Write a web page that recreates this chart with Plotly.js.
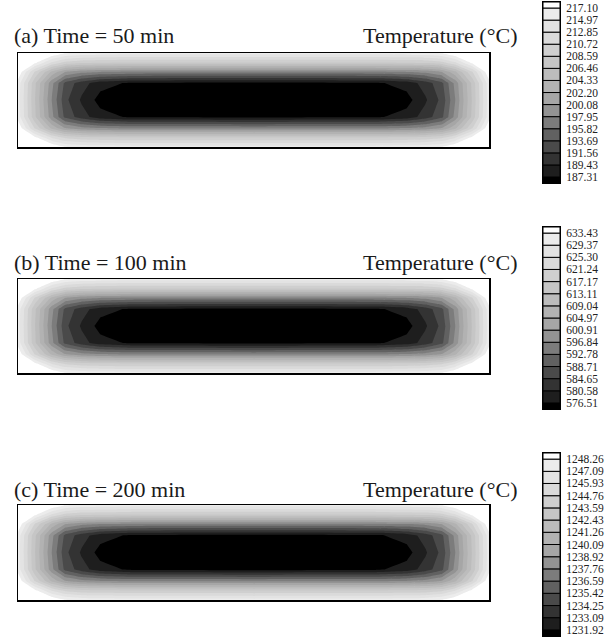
<!DOCTYPE html>
<html><head><meta charset="utf-8">
<script src="https://cdn.plot.ly/plotly-3.0.1.min.js"></script>
<style>html,body{margin:0;padding:0;background:#fff}#chart{width:616px;height:641px}</style>
</head><body><div id="chart"></div>
<script>
// grid node positions (mm along length / thickness)
const xNodes = [0, 36, 72, 100, 135, 175, 240, 500, 760, 825, 865, 900, 928, 964, 1000];
const yNodes = [0, 20, 40, 64, 100, 136, 160, 180, 200];

// temperature fields (°C)
const tempA = [
  [229.65,223.48,219.23,217.31,216.57,216.25,216.04,216.04,216.04,216.25,216.57,217.31,219.23,223.48,229.65],
  [224.76,217.74,212.63,210.18,209.23,208.91,208.70,208.65,208.70,208.91,209.23,210.18,212.63,217.74,224.76],
  [219.02,210.50,203.80,200.18,198.69,198.06,197.63,197.52,197.63,198.06,198.69,200.18,203.80,210.50,219.02],
  [216.25,206.89,198.59,193.16,190.40,188.16,186.99,186.78,186.99,188.16,190.40,193.16,198.59,206.89,216.25],
  [216.04,206.57,197.84,192.20,189.12,186.46,184.97,183.05,184.97,186.46,189.12,192.20,197.84,206.57,216.04],
  [216.25,206.89,198.59,193.16,190.40,188.16,186.99,186.78,186.99,188.16,190.40,193.16,198.59,206.89,216.25],
  [219.02,210.50,203.80,200.18,198.69,198.06,197.63,197.52,197.63,198.06,198.69,200.18,203.80,210.50,219.02],
  [224.76,217.74,212.63,210.18,209.23,208.91,208.70,208.65,208.70,208.91,209.23,210.18,212.63,217.74,224.76],
  [229.65,223.48,219.23,217.31,216.57,216.25,216.04,216.04,216.04,216.25,216.57,217.31,219.23,223.48,229.65]
];
const tempB = [
  [657.42,645.63,637.50,633.84,632.41,631.80,631.40,631.40,631.40,631.80,632.41,633.84,637.50,645.63,657.42],
  [648.07,634.65,624.89,620.22,618.39,617.78,617.37,617.25,617.37,617.78,618.39,620.22,624.89,634.65,648.07],
  [637.09,620.83,608.02,601.11,598.26,597.04,596.23,596.03,596.23,597.04,598.26,601.11,608.02,620.83,637.09],
  [631.80,613.92,598.06,587.69,582.41,578.14,575.90,575.49,575.90,578.14,582.41,587.69,598.06,613.92,631.80],
  [631.40,613.31,596.64,585.86,579.97,574.88,572.04,568.38,572.04,574.88,579.97,585.86,596.64,613.31,631.40],
  [631.80,613.92,598.06,587.69,582.41,578.14,575.90,575.49,575.90,578.14,582.41,587.69,598.06,613.92,631.80],
  [637.09,620.83,608.02,601.11,598.26,597.04,596.23,596.03,596.23,597.04,598.26,601.11,608.02,620.83,637.09],
  [648.07,634.65,624.89,620.22,618.39,617.78,617.37,617.25,617.37,617.78,618.39,620.22,624.89,634.65,648.07],
  [657.42,645.63,637.50,633.84,632.41,631.80,631.40,631.40,631.40,631.80,632.41,633.84,637.50,645.63,657.42]
];
const tempC = [
  [1255.15,1251.76,1249.43,1248.38,1247.97,1247.79,1247.68,1247.68,1247.68,1247.79,1247.97,1248.38,1249.43,1251.76,1255.15],
  [1252.46,1248.61,1245.81,1244.47,1243.94,1243.77,1243.65,1243.62,1243.65,1243.77,1243.94,1244.47,1245.81,1248.61,1252.46],
  [1249.31,1244.64,1240.97,1238.98,1238.16,1237.81,1237.58,1237.52,1237.58,1237.81,1238.16,1238.98,1240.97,1244.64,1249.31],
  [1247.79,1242.66,1238.11,1235.13,1233.61,1232.39,1231.74,1231.63,1231.74,1232.39,1233.61,1235.13,1238.11,1242.66,1247.79],
  [1247.68,1242.48,1237.70,1234.60,1232.91,1231.45,1230.64,1229.59,1230.64,1231.45,1232.91,1234.60,1237.70,1242.48,1247.68],
  [1247.79,1242.66,1238.11,1235.13,1233.61,1232.39,1231.74,1231.63,1231.74,1232.39,1233.61,1235.13,1238.11,1242.66,1247.79],
  [1249.31,1244.64,1240.97,1238.98,1238.16,1237.81,1237.58,1237.52,1237.58,1237.81,1238.16,1238.98,1240.97,1244.64,1249.31],
  [1252.46,1248.61,1245.81,1244.47,1243.94,1243.77,1243.65,1243.62,1243.65,1243.77,1243.94,1244.47,1245.81,1248.61,1252.46],
  [1255.15,1251.76,1249.43,1248.38,1247.97,1247.79,1247.68,1247.68,1247.68,1247.79,1247.97,1248.38,1249.43,1251.76,1255.15]
];

// legend levels (°C), ascending
const levelsA = [187.31,189.43,191.56,193.69,195.82,197.95,200.08,202.20,204.33,206.46,208.59,210.72,212.85,214.97,217.10];
const levelsB = [576.51,580.58,584.65,588.71,592.78,596.84,600.91,604.97,609.04,613.11,617.17,621.24,625.30,629.37,633.43];
const levelsC = [1231.92,1233.09,1234.25,1235.42,1236.59,1237.76,1238.92,1240.09,1241.26,1242.43,1243.59,1244.76,1245.93,1247.09,1248.26];

// band colours, coldest (below first level) to hottest (above last level)
const bandColors = ['#000000','#1e1e1e','#333333','#4a4a4a','#616161','#7c7c7c','#939393','#a6a6a6',
                    '#b2b2b2','#bcbcbc','#c6c6c6','#cfcfcf','#dadada','#e3e3e3','#ececec','#ffffff'];

const panelTitles = ['(a) Time = 50 min', '(b) Time = 100 min', '(c) Time = 200 min'];
const legendTitle = 'Temperature (°C)';

const fields = [tempA, tempB, tempC];
const levelSets = [levelsA, levelsB, levelsC];

// layout geometry (pixels)
const W = 616, H = 641;
const plotX = [18, 489];
const plotY = [[53, 147], [279, 373], [505, 600]];
const cbX = [543, 560];
const cbY = [[2, 183], [227, 409], [453, 636]];
const titleY = [36, 262, 489];

const colorscale = bandColors.map((c, i) => [i / (bandColors.length - 1), c]);
const FONT = 'Liberation Serif, Times New Roman, serif';

const traces = [];
const layout = {
  width: W, height: H,
  margin: {l: 0, r: 0, t: 0, b: 0},
  paper_bgcolor: '#fff', plot_bgcolor: '#fff',
  showlegend: false,
  barmode: 'overlay',
  annotations: []
};

function py(px) { return 1 - px / H; }

for (let p = 0; p < 3; p++) {
  const lv = levelSets[p];
  const n = lv.length;
  const step = (lv[n - 1] - lv[0]) / (n - 1);
  const ax = p + 1, cbAx = p + 4;
  const xs = ax === 1 ? '' : String(ax);
  traces.push({
    type: 'contour', x: xNodes, y: yNodes, z: fields[p],
    xaxis: 'x' + xs, yaxis: 'y' + xs,
    autocontour: false,
    contours: {coloring: 'fill', showlines: false, start: lv[0], end: lv[n - 1], size: step},
    line: {width: 0, smoothing: 0},
    colorscale: colorscale, showscale: false, hoverinfo: 'skip'
  });
  layout['xaxis' + xs] = {
    domain: [plotX[0] / W, plotX[1] / W], range: [0, 1000], anchor: 'y' + xs,
    showline: true, mirror: true, linecolor: '#000', linewidth: 1.5,
    showticklabels: false, ticks: '', showgrid: false, zeroline: false, fixedrange: true
  };
  layout['yaxis' + xs] = {
    domain: [py(plotY[p][1]), py(plotY[p][0])], range: [0, 200], anchor: 'x' + xs,
    showline: true, mirror: true, linecolor: '#000', linewidth: 1.5,
    showticklabels: false, ticks: '', showgrid: false, zeroline: false, fixedrange: true
  };

  // legend bar built from the level list
  const bottoms = [lv[0] - step / 2].concat(lv);
  const tops = lv.concat([lv[n - 1] + step / 2]);
  traces.push({
    type: 'bar', x: bottoms.map(() => 0), y: tops.map((t, i) => t - bottoms[i]), base: bottoms,
    width: 1, xaxis: 'x' + cbAx, yaxis: 'y' + cbAx,
    marker: {color: bandColors, line: {color: '#000', width: 1}},
    hoverinfo: 'skip'
  });
  layout['xaxis' + cbAx] = {
    domain: [cbX[0] / W, cbX[1] / W], range: [-0.5, 0.5], anchor: 'y' + cbAx,
    showline: true, mirror: true, linecolor: '#000', linewidth: 1,
    showticklabels: false, ticks: '', showgrid: false, zeroline: false, fixedrange: true
  };
  layout['yaxis' + cbAx] = {
    domain: [py(cbY[p][1]), py(cbY[p][0])], range: [lv[0] - step / 2, lv[n - 1] + step / 2],
    anchor: 'x' + cbAx, side: 'right',
    tickvals: lv, ticktext: lv.map(v => v.toFixed(2)), ticks: '', ticklabelstandoff: 3,
    tickfont: {family: FONT, size: 11.5, color: '#222'},
    showline: true, mirror: true, linecolor: '#000', linewidth: 1,
    showgrid: false, zeroline: false, fixedrange: true
  };

  layout.annotations.push({
    text: panelTitles[p], xref: 'paper', yref: 'paper', x: 12 / W, y: py(titleY[p]),
    xanchor: 'left', yanchor: 'middle', showarrow: false,
    font: {family: FONT, size: 22, color: '#1a1a1a'}
  });
  layout.annotations.push({
    text: legendTitle, xref: 'paper', yref: 'paper', x: 519 / W, y: py(titleY[p]),
    xanchor: 'right', yanchor: 'middle', showarrow: false,
    font: {family: FONT, size: 22, color: '#1a1a1a'}
  });
}

Plotly.newPlot('chart', traces, layout, {staticPlot: true, displayModeBar: false});
</script></body></html>
